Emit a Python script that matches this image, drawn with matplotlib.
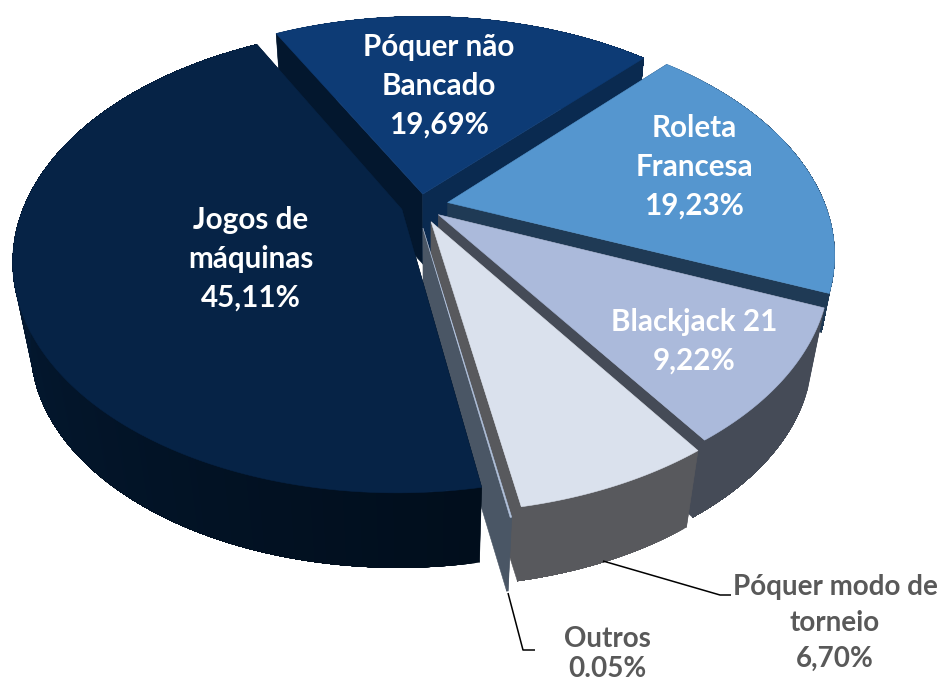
import numpy as np
import matplotlib
matplotlib.use("Agg")
import matplotlib.pyplot as plt
from matplotlib.colors import to_rgb
from matplotlib.patches import Polygon

# chart data, in drawing order round the pie (clockwise from the back)
names = ["Póquer não\nBancado", "Roleta\nFrancesa", "Blackjack 21",
         "Póquer modo de\ntorneio", "Outros", "Jogos de\nmáquinas"]
values = [19.69, 19.23, 9.22, 6.70, 0.05, 45.11]
value_labels = ["19,69%", "19,23%", "9,22%", "6,70%", "0.05%", "45,11%"]

# looks of each slice
explode = [0.055, 0.075, 0.062, 0.076, 0.1, 0.05]
shift_u = [0, 0, 0, 0, -0.01, 0]
top_colors = ["#0d3b75", "#5596cf", "#abbadb", "#dae1ed", "#b4c3dc", "#062346"]
rim_start = ["#0a2a50", "#1f3a55", "#454b57", "#58595d", "#4a5665", "#010e1c"]
rim_end = ["#0a2a50", "#1f3a55", "#454b57", "#58595d", "#4a5665", "#062243"]
face_start = ["#03172e", "#0a2a50", "#454b57", "#58595d", "#4a5665", "#010e1c"]
face_end = ["#0a2a50", "#1f3a55", "#454b57", "#58595d", "#4a5665", "#041a33"]
drop_scale = [0.9657, 0.98, 0.957, 0.957, 0.957, 0.957]
draw_order = [0, 1, 2, 3, 4, 5]
label_pos = [(439, 86), (694, 167), (694, 341), (835, 623), (607, 654), (251, 259)]
label_colors = ["white", "white", "white", "#595959", "#595959", "white"]
label_sizes = [21.3, 21.3, 21.3, 20, 20, 21.3]
label_spacing = [1.47, 1.47, 1.47, 1.47, 1.22, 1.47]

START_ANGLE = -27.7
CX, CY = 420, 206
A, B, K = 378, 220.6, 0.215
VX, VY = 430, 2237


def project(u, v):
    w = 1 - K * v
    return CX + A * u / w, CY + B * v / w


def drop(x, y, s):
    # same point on the lower face of the pie
    return VX + s * (x - VX), VY + s * (y - VY)


def mix(c0, c1, t):
    c0, c1 = np.array(to_rgb(c0)), np.array(to_rgb(c1))
    return tuple(c0 + (c1 - c0) * t)


fig = plt.figure(figsize=(9.39, 6.85), dpi=100)
ax = fig.add_axes([0, 0, 1, 1])
ax.set_xlim(0, 939)
ax.set_ylim(685, 0)
ax.axis("off")

edges = START_ANGLE + np.concatenate([[0], np.cumsum(values)]) * 3.6 / (sum(values) / 100)

for i in draw_order:
    t0, t1 = edges[i], edges[i + 1]
    mid = np.radians((t0 + t1) / 2)
    ox, oy = explode[i] * np.sin(mid) + shift_u[i], -explode[i] * np.cos(mid)
    th = np.radians(np.linspace(t0, t1, max(int(t1 - t0) * 2, 2) + 1))
    rx, ry = project(ox + np.sin(th), oy - np.cos(th))
    ax_, ay_ = project(ox, oy)
    bx, by = drop(rx, ry, drop_scale[i])
    abx, aby = drop(ax_, ay_, drop_scale[i])

    # curved outer side, each step painted to the arc's end so no seams show
    n = len(th) - 1
    for j in range(n):
        col = mix(rim_start[i], rim_end[i], j / max(n - 1, 1))
        pts = list(zip(rx[j:], ry[j:])) + list(zip(bx[j:][::-1], by[j:][::-1]))
        ax.add_patch(Polygon(pts, closed=True, fc=col, ec="none"))

    # straight cut faces
    for end, col in ((0, face_start[i]), (-1, face_end[i])):
        pts = [(ax_, ay_), (rx[end], ry[end]), (bx[end], by[end]), (abx, aby)]
        ax.add_patch(Polygon(pts, closed=True, fc=col, ec=col, lw=0.4))

    top = [(ax_, ay_)] + list(zip(rx, ry))
    ax.add_patch(Polygon(top, closed=True, fc=top_colors[i], ec=top_colors[i], lw=0.4))

# leader lines
ax.plot([603, 720, 731], [561, 595, 595], color="black", lw=1.1, solid_capstyle="butt")
ax.plot([508, 523, 535], [593, 650, 650], color="black", lw=1.1, solid_capstyle="butt")

for k in range(len(names)):
    ax.text(label_pos[k][0], label_pos[k][1], names[k] + "\n" + value_labels[k],
            color=label_colors[k], ha="center", va="center", family="Lato", weight="bold",
            fontsize=label_sizes[k], linespacing=label_spacing[k])

fig.savefig("out.png", dpi=100)
